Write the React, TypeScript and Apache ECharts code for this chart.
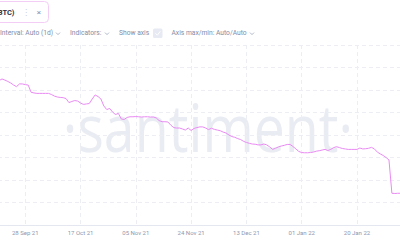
import React, { useEffect, useRef } from "react";
import * as echarts from "echarts";

// x axis: day index counted from START_DATE (day 0)
const START_DATE = "2021-09-09";
const FIRST_DAY = 8; // day index of values[0]
const AXIS_MIN_DAY = 0;
const AXIS_MAX_DAY = 152;
const TICK_DAYS = 19;

const values = [
  64.4, 64.3, 64.2, 64.9, 64.4, 63.8, 63.1, 62.2, 61.5, 62.7,
  62.7, 62.4, 62.2, 59.0, 58.7, 58.5, 58.5, 58.5, 58.5, 58.5,
  58.0, 57.3, 56.9, 56.7, 56.6, 56.2, 54.4, 54.9, 55.3, 55.1,
  54.2, 53.6, 53.8, 54.0, 56.0, 57.8, 57.1, 56.0, 52.9, 51.3,
  51.8, 50.2, 49.1, 49.6, 47.1, 46.9, 47.8, 48.1, 48.1, 48.2,
  48.1, 48.0, 48.1, 48.1, 48.0, 48.0, 47.6, 46.4, 45.9, 45.9,
  45.8, 44.4, 43.3, 43.1, 43.1, 42.7, 42.2, 43.1, 42.0, 42.9,
  43.3, 43.6, 43.6, 43.1, 42.4, 43.0, 42.5, 42.2, 41.9, 41.3,
  40.9, 40.0, 39.3, 39.0, 38.4, 38.0, 37.2, 36.7, 36.3, 36.0,
  35.9, 35.6, 35.6, 36.0, 35.6, 34.7, 33.6, 34.1, 34.7, 35.1,
  35.4, 35.8, 35.8, 34.9, 33.8, 32.7, 32.2, 32.1, 32.1, 32.2,
  32.4, 32.8, 33.0, 33.3, 33.6, 33.1, 33.6, 34.4, 34.8, 34.4,
  34.0, 33.8, 33.6, 33.6, 33.6, 33.6, 34.2, 33.8, 33.9, 34.1,
  34.5, 33.8, 32.4, 31.6, 30.9, 30.0, 28.9, 14.1, 14.0, 14.1,
  14.1, 14.0, 14.1,
];

const Y_MIN = 0;
const Y_MAX = 80;
const Y_STEP = 10;

const MONTHS = ["Jan", "Feb", "Mar", "Apr", "May", "Jun", "Jul", "Aug", "Sep", "Oct", "Nov", "Dec"];

const controls = [
  { text: "Interval: Auto (1d)", x: 0, chevron: 58 },
  { text: "Indicators:", x: 70, chevron: 107 },
  { text: "Show axis", x: 119, chevron: null },
  { text: "Axis max/min: Auto/Auto", x: 171.5, chevron: 252 },
];

function dayLabel(d: number): string {
  const t = Date.parse(START_DATE + "T00:00:00Z") + Math.round(d) * 86400000;
  const dt = new Date(t);
  const dd = String(dt.getUTCDate()).padStart(2, "0");
  return dd + " " + MONTHS[dt.getUTCMonth()] + " " + String(dt.getUTCFullYear()).slice(2);
}

export default function App() {
  const ref = useRef<HTMLDivElement>(null);

  useEffect(() => {
    if (!ref.current) return;
    const chart = echarts.init(ref.current, null, { renderer: "svg" });
    const seriesData = values.map((v, i) => [FIRST_DAY + i, v]);
    const font = "Roboto";
    const ctrlColor = "#838da6";

    const graphics: any[] = [
      {
        type: "text",
        x: 208,
        y: 127,
        scaleX: 0.84,
        z: 0,
        silent: true,
        style: {
          text: "·santiment·",
          x: 0,
          y: 0,
          align: "center",
          verticalAlign: "middle",
          fontSize: 66,
          fontFamily: "Open Sans",
          fill: "#eaecf3",
        },
      },
      {
        type: "rect",
        shape: { x: -10, y: 1.5, width: 58.5, height: 21, r: 4 },
        style: { fill: "#ffffff", stroke: "#f4cdf6", lineWidth: 1 },
      },
      {
        type: "text",
        style: {
          text: "(BTC)", x: 14.5, y: 12.5, align: "right", verticalAlign: "middle",
          fontSize: 7.5, fontWeight: "bold", fontFamily: font, fill: "#2a2f45",
        },
      },
      {
        type: "text",
        style: {
          text: "⋮", x: 26, y: 12.5, align: "center", verticalAlign: "middle",
          fontSize: 8, fontFamily: "DejaVu Sans", fill: "#c9cedb",
        },
      },
      {
        type: "text",
        style: {
          text: "×", x: 39, y: 12.5, align: "center", verticalAlign: "middle",
          fontSize: 8, fontFamily: font, fill: "#8a93aa",
        },
      },
      {
        type: "rect",
        shape: { x: 153, y: 28.5, width: 9.5, height: 9.5, r: 1.5 },
        style: { fill: "#e7eaf2" },
      },
      {
        type: "polyline",
        shape: { points: [[155.5, 33.3], [157.3, 35.2], [160.3, 31.3]] },
        style: { stroke: "#ffffff", lineWidth: 1, fill: null },
      },
    ];
    controls.forEach((c) => {
      graphics.push({
        type: "text",
        style: {
          text: c.text, x: c.x, y: 33.3, align: "left", verticalAlign: "middle",
          fontSize: 6.7, fontFamily: font, fill: ctrlColor,
        },
      });
      if (c.chevron !== null) {
        graphics.push({
          type: "polyline",
          shape: { points: [[c.chevron - 2, 32.6], [c.chevron, 34.6], [c.chevron + 2, 32.6]] },
          style: { stroke: "#9ba4b9", lineWidth: 0.8, fill: null },
        });
      }
    });

    chart.setOption({
      animation: false,
      backgroundColor: "#ffffff",
      grid: {
        left: -30,
        right: -12.26,
        top: 45,
        bottom: 15,
        containLabel: false,
        outerBoundsMode: "none",
      },
      xAxis: {
        type: "value",
        min: AXIS_MIN_DAY,
        max: AXIS_MAX_DAY,
        interval: TICK_DAYS,
        axisLine: { show: true, lineStyle: { color: "#e4e7ef", width: 1 } },
        axisTick: { show: false },
        axisLabel: {
          show: true,
          showMinLabel: false,
          showMaxLabel: false,
          formatter: (v: number) => dayLabel(v),
          fontSize: 6,
          fontFamily: font,
          color: "#8e98b0",
          margin: 4.5,
        },
        splitLine: { show: true, lineStyle: { color: "#eceef4", type: [4, 3], width: 1 } },
      },
      yAxis: {
        type: "value",
        min: Y_MIN,
        max: Y_MAX,
        interval: Y_STEP,
        axisLine: { show: false },
        axisTick: { show: false },
        axisLabel: { show: false },
        splitLine: { show: true, lineStyle: { color: "#eceef4", type: [4, 3], width: 1 } },
      },
      graphic: graphics,
      series: [
        {
          type: "line",
          data: seriesData,
          showSymbol: false,
          symbol: "none",
          lineStyle: { color: "#e98af3", width: 1 },
          z: 3,
        },
      ],
    });
    return () => chart.dispose();
  }, []);

  return (
    <div
      ref={ref}
      style={{ position: "absolute", left: 0, top: 0, width: 400, height: 240, background: "#fff" }}
    />
  );
}
